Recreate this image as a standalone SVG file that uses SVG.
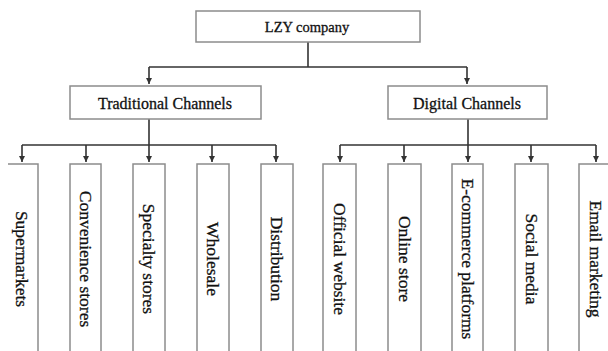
<svg xmlns="http://www.w3.org/2000/svg" width="608" height="351" viewBox="0 0 608 351">
<style>
.box{fill:#fff;stroke:#8c8c8c;stroke-width:1.5}
.con{fill:none;stroke:#333;stroke-width:1.6}
.t{font-family:"Liberation Serif","Times New Roman",serif;fill:#111;stroke:#111;stroke-width:0.3;text-anchor:middle;dominant-baseline:central}
.top{font-size:14.5px}
.mid{font-size:16px}
.leaf{font-size:17.5px}
</style>
<defs>
<marker id="arr" markerUnits="userSpaceOnUse" markerWidth="7" markerHeight="7" refX="6" refY="3" orient="auto">
<path d="M0,0 L6,3 L0,6 z" fill="#333"/>
</marker>
</defs>
<rect width="608" height="351" fill="#fff"/>
<g id="connectors">
<path class="con" d="M308,42 V67"/>
<path class="con" d="M149,67 H467"/>
<path class="con" d="M149,67 V84" marker-end="url(#arr)"/>
<path class="con" d="M467,67 V84" marker-end="url(#arr)"/>
<path class="con" d="M149,119 V145"/>
<path class="con" d="M22,145 H276"/>
<path class="con" d="M22,145 V162" marker-end="url(#arr)"/>
<path class="con" d="M86,145 V162" marker-end="url(#arr)"/>
<path class="con" d="M149,145 V162" marker-end="url(#arr)"/>
<path class="con" d="M212,145 V162" marker-end="url(#arr)"/>
<path class="con" d="M276,145 V162" marker-end="url(#arr)"/>
<path class="con" d="M468,119 V145"/>
<path class="con" d="M340,145 H596"/>
<path class="con" d="M340,145 V162" marker-end="url(#arr)"/>
<path class="con" d="M404,145 V162" marker-end="url(#arr)"/>
<path class="con" d="M468,145 V162" marker-end="url(#arr)"/>
<path class="con" d="M531,145 V162" marker-end="url(#arr)"/>
<path class="con" d="M596,145 V162" marker-end="url(#arr)"/>
</g>
<g id="lzy">
<rect class="box" x="196" y="11" width="224" height="31"/>
<text class="t top" x="307" y="27">LZY company</text>
</g>
<g id="traditional">
<rect class="box" x="70" y="86" width="191" height="33"/>
<text class="t mid" x="165" y="103">Traditional Channels</text>
</g>
<g id="digital">
<rect class="box" x="388" y="86" width="159" height="33"/>
<text class="t mid" x="467" y="103">Digital Channels</text>
</g>
<g id="supermarkets">
<path class="box" d="M8,164 H38 V360 H8"/>
<text class="t leaf" transform="translate(22,259) rotate(90)">Supermarkets</text>
</g>
<g id="convenience">
<rect class="box" x="70" y="164" width="31" height="200"/>
<text class="t leaf" transform="translate(85.5,259) rotate(90)">Convenience stores</text>
</g>
<g id="specialty">
<rect class="box" x="133" y="164" width="32" height="200"/>
<text class="t leaf" transform="translate(149,259) rotate(90)">Specialty stores</text>
</g>
<g id="wholesale">
<rect class="box" x="197" y="164" width="32" height="200"/>
<text class="t leaf" transform="translate(213,259) rotate(90)">Wholesale</text>
</g>
<g id="distribution">
<rect class="box" x="261" y="164" width="32" height="200"/>
<text class="t leaf" transform="translate(277,259) rotate(90)">Distribution</text>
</g>
<g id="official">
<rect class="box" x="323" y="164" width="33" height="200"/>
<text class="t leaf" transform="translate(339.5,259) rotate(90)">Official website</text>
</g>
<g id="online">
<rect class="box" x="388" y="164" width="33" height="200"/>
<text class="t leaf" transform="translate(404.5,259) rotate(90)">Online store</text>
</g>
<g id="ecommerce">
<rect class="box" x="452" y="164" width="31" height="200"/>
<text class="t leaf" transform="translate(467.5,259) rotate(90)">E-commerce platforms</text>
</g>
<g id="social">
<rect class="box" x="515" y="164" width="33" height="200"/>
<text class="t leaf" transform="translate(531.5,259) rotate(90)">Social media</text>
</g>
<g id="email">
<rect class="box" x="579" y="164" width="33" height="200"/>
<text class="t leaf" transform="translate(595.5,259) rotate(90)">Email marketing</text>
</g>
</svg>
